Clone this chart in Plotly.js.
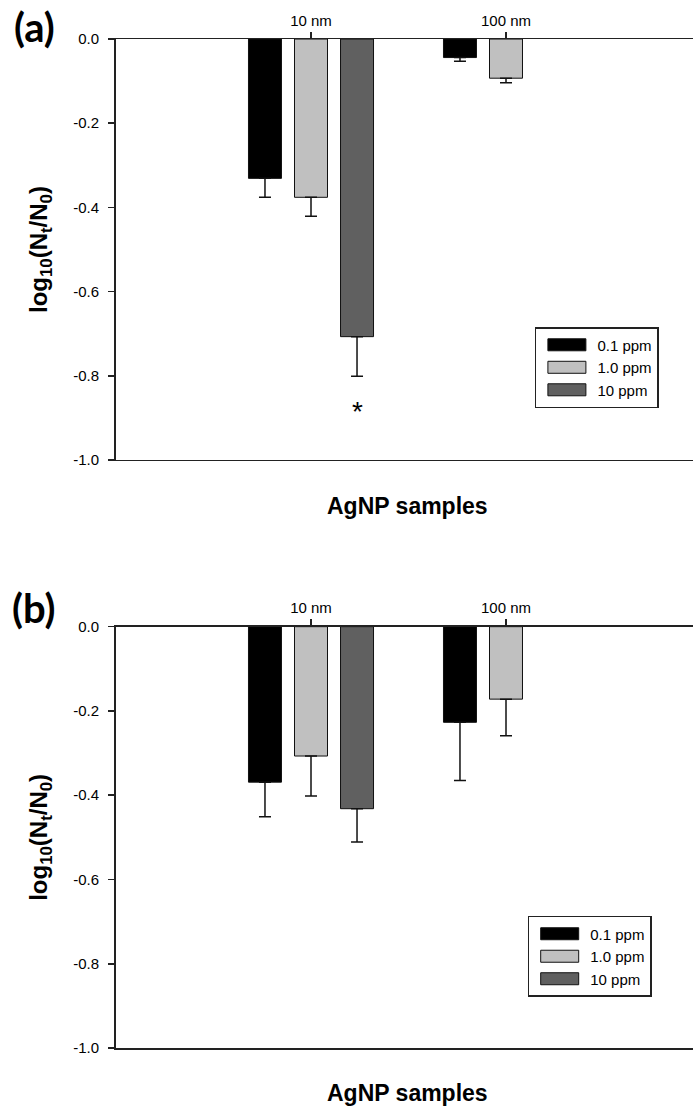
<!DOCTYPE html>
<html>
<head>
<meta charset="utf-8">
<script src="https://cdn.plot.ly/plotly-3.0.1.min.js"></script>
<style>
html,body{margin:0;padding:0;background:#fff;}
g.legendpoints path{d:path("M19,6H-19V-6H19Z");}
</style>
</head>
<body>
<div id="chart" style="width:693px;height:1106px;"></div>
<script>
// ---- data ----
var categories = ["10 nm", "100 nm"];
var seriesNames = ["0.1 ppm", "1.0 ppm", "10 ppm"];
var seriesColors = ["#000000", "#c0c0c0", "#606060"];

// panel (a)
var a_01 = [-0.331, -0.044];
var a_01_err = [0.045, 0.009];
var a_10 = [-0.376, -0.093];
var a_10_err = [0.045, 0.011];
var a_100 = [-0.707];
var a_100_err = [0.094];

// panel (b)
var b_01 = [-0.369, -0.227];
var b_01_err = [0.082, 0.138];
var b_10 = [-0.307, -0.172];
var b_10_err = [0.095, 0.087];
var b_100 = [-0.432];
var b_100_err = [0.079];

var yTickVals = [-1.0, -0.8, -0.6, -0.4, -0.2, 0.0];
var yTickText = ["-1.0", "-0.8", "-0.6", "-0.4", "-0.2", "0.0"];

// ---- layout helpers ----
var FONT = "Liberation Sans, Arial, sans-serif";
var BARGAP = 0.292, BARGROUPGAP = 0.283;

function barTrace(name, color, yv, err, xa, ya, leg) {
  var cats = categories.slice(0, yv.length);
  return {
    type: "bar", name: name, x: cats, y: yv,
    xaxis: xa, yaxis: ya, legend: leg,
    marker: {color: color, line: {color: "#111", width: 1}},
    error_y: {type: "data", symmetric: false,
      array: yv.map(function(){return 0;}), arrayminus: err,
      color: "#111", thickness: 1.5, width: 6},
    hoverinfo: "skip"
  };
}

var data = [
  barTrace(seriesNames[0], seriesColors[0], a_01, a_01_err, "x", "y", "legend"),
  barTrace(seriesNames[1], seriesColors[1], a_10, a_10_err, "x", "y", "legend"),
  barTrace(seriesNames[2], seriesColors[2], a_100, a_100_err, "x", "y", "legend"),
  barTrace(seriesNames[0], seriesColors[0], b_01, b_01_err, "x2", "y2", "legend2"),
  barTrace(seriesNames[1], seriesColors[1], b_10, b_10_err, "x2", "y2", "legend2"),
  barTrace(seriesNames[2], seriesColors[2], b_100, b_100_err, "x2", "y2", "legend2")
];

function xAxis(anchor) {
  return {
    type: "category", categoryorder: "array", categoryarray: categories,
    anchor: anchor, side: "top", range: [-1, 1.959],
    showline: true, linecolor: "#222", linewidth: 1.5, mirror: true,
    ticks: "outside", ticklen: 6, tickwidth: 1.5, tickcolor: "#222",
    showgrid: false, zeroline: false, automargin: false,
    tickfont: {family: FONT, size: 15, color: "#000"}
  };
}
function yAxis(anchor, domain) {
  return {
    anchor: anchor, domain: domain, range: [-1, 0],
    tickvals: yTickVals, ticktext: yTickText,
    showline: true, linecolor: "#222", linewidth: 2,
    ticks: "outside", ticklen: 6, tickwidth: 1.5, tickcolor: "#222",
    ticklabelstandoff: 6,
    showgrid: false, zeroline: false, automargin: false,
    tickfont: {family: FONT, size: 15, color: "#000"},
    title: {text: "log<sub>10</sub>(N<sub>t</sub>/N<sub>0</sub>)",
      font: {family: FONT, size: 24, color: "#000", weight: "bold"}, standoff: 19}
  };
}
function legendCfg(x, y) {
  return {
    x: x, y: y, xref: "paper", yref: "paper", xanchor: "left", yanchor: "top",
    bordercolor: "#222", borderwidth: 1.5, bgcolor: "#fff",
    font: {family: FONT, size: 15, color: "#000"},
    itemwidth: 51, traceorder: "normal", tracegroupgap: 0
  };
}

// asterisk position derived from grouped-bar geometry of the 10 ppm bar
var slot = (1 - BARGAP) / 3;
var starX = 0 + slot * (2 - 1);
var starY = a_100[0] - a_100_err[0] - 0.084;

var PANEL_FONT = {family: "Lato, Open Sans, sans-serif", size: 40, color: "#000", weight: "bold"};
var XTITLE_FONT = {family: FONT, size: 23, color: "#000", weight: "bold"};

var layout = {
  width: 693, height: 1106,
  margin: {l: 116, r: 0, t: 0, b: 0},
  paper_bgcolor: "#fff", plot_bgcolor: "#fff",
  barmode: "group", bargap: BARGAP, bargroupgap: BARGROUPGAP,
  showlegend: true,
  xaxis: xAxis("y"),
  yaxis: yAxis("x", [0.5841, 0.9647]),
  xaxis2: xAxis("y2"),
  yaxis2: yAxis("x2", [0.0524, 0.4334]),
  legend: legendCfg(0.726, 0.7043),
  legend2: legendCfg(0.7135, 0.1718),
  annotations: [
    {text: "*", x: starX, y: starY, xref: "x", yref: "y", showarrow: false,
     xanchor: "center", yanchor: "middle",
     font: {family: FONT, size: 28, color: "#000"}},
    {text: "AgNP samples", x: 0.505, y: 0.5425, xref: "paper", yref: "paper",
     xanchor: "center", yanchor: "middle", showarrow: false, font: XTITLE_FONT},
    {text: "AgNP samples", x: 0.505, y: 0.01175, xref: "paper", yref: "paper",
     xanchor: "center", yanchor: "middle", showarrow: false, font: XTITLE_FONT},
    {text: "(a)", x: -0.1421, y: 0.9755, xref: "paper", yref: "paper",
     xanchor: "center", yanchor: "middle", showarrow: false, font: PANEL_FONT},
    {text: "(b)", x: -0.1421, y: 0.4503, xref: "paper", yref: "paper",
     xanchor: "center", yanchor: "middle", showarrow: false, font: PANEL_FONT}
  ]
};

function widenLegendSwatches() {
  document.querySelectorAll("g.legendpoints path").forEach(function(p) {
    p.setAttribute("d", "M19,6H-19V-6H19Z");
  });
}

Plotly.newPlot("chart", data, layout, {staticPlot: true, displayModeBar: false}).then(function(gd) {
  widenLegendSwatches();
  gd.on("plotly_afterplot", widenLegendSwatches);
  setTimeout(widenLegendSwatches, 50);
});
</script>
</body>
</html>
